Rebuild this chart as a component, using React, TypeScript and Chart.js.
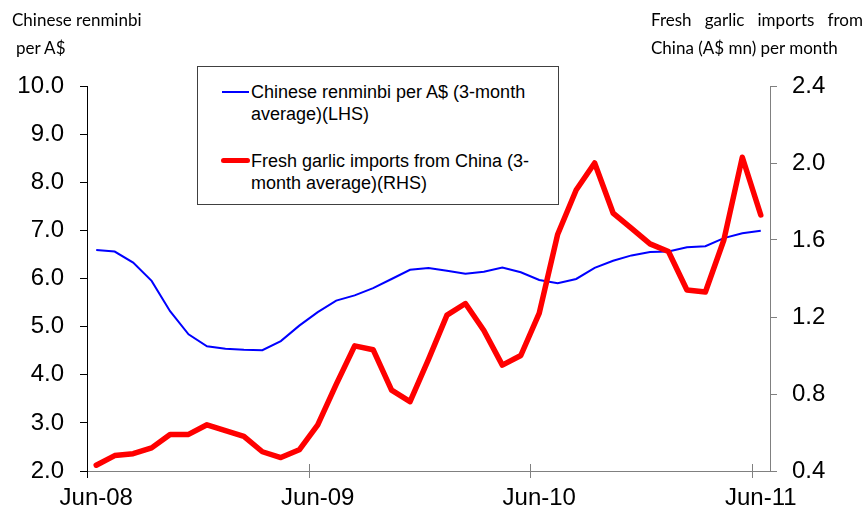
import React, { useEffect, useRef } from "react";
import { Chart, registerables } from "chart.js";

Chart.register(...registerables);

// Monthly categories, Jun-08 to Jun-11
const months = [
  "Jun-08", "Jul-08", "Aug-08", "Sep-08", "Oct-08", "Nov-08", "Dec-08",
  "Jan-09", "Feb-09", "Mar-09", "Apr-09", "May-09", "Jun-09", "Jul-09",
  "Aug-09", "Sep-09", "Oct-09", "Nov-09", "Dec-09", "Jan-10", "Feb-10",
  "Mar-10", "Apr-10", "May-10", "Jun-10", "Jul-10", "Aug-10", "Sep-10",
  "Oct-10", "Nov-10", "Dec-10", "Jan-11", "Feb-11", "Mar-11", "Apr-11",
  "May-11", "Jun-11",
];

// Labelled months on the horizontal axis
const xTickLabels = ["Jun-08", "Jun-09", "Jun-10", "Jun-11"];

// Chinese renminbi per A$ (3-month average), left axis
const rmbPerAud = [
  6.59, 6.56, 6.33, 5.95, 5.32, 4.84, 4.59, 4.54, 4.52, 4.51, 4.7, 5.02,
  5.3, 5.54, 5.65, 5.8, 5.99, 6.18, 6.22, 6.16, 6.1, 6.14, 6.23, 6.13,
  5.97, 5.9, 5.99, 6.22, 6.37, 6.48, 6.55, 6.56, 6.65, 6.67, 6.84, 6.94,
  6.99,
];

// Fresh garlic imports from China, A$ mn (3-month average), right axis
const garlicImports = [
  0.43, 0.48, 0.49, 0.52, 0.59, 0.59, 0.64, 0.61, 0.58, 0.5, 0.47, 0.51,
  0.64, 0.85, 1.05, 1.03, 0.82, 0.76, 0.98, 1.21, 1.27, 1.13, 0.95, 1.0,
  1.22, 1.63, 1.86, 2.0, 1.74, 1.66, 1.58, 1.54, 1.34, 1.33, 1.6, 2.03,
  1.73,
];

// Axis ranges
const leftMin = 2.0;
const leftMax = 10.0;
const leftStep = 1.0;
const rightMin = 0.4;
const rightMax = 2.4;
const rightStep = 0.4;

const seriesNames = [
  ["Chinese renminbi per A$ (3-month", "average)(LHS)"],
  ["Fresh garlic imports from China (3-", "month average)(RHS)"],
];

const axisFont = "'Liberation Sans', Arial, sans-serif";
const titleFont = "Lato, 'Open Sans', sans-serif";

// Crossing tick marks on the category axis at each labelled month boundary
const yearTicks = {
  id: "yearTicks",
  afterDraw(chart: any) {
    const xs = chart.scales.x;
    const ctx = chart.ctx;
    const half = (xs.getPixelForValue(1) - xs.getPixelForValue(0)) / 2;
    ctx.save();
    ctx.lineWidth = 1;
    months.forEach((m, i) => {
      if (!xTickLabels.includes(m)) return;
      const x = Math.round(xs.getPixelForValue(i) - half) + 0.5;
      ctx.strokeStyle = i === 0 ? "#000000" : "#808080";
      ctx.beginPath();
      ctx.moveTo(x, i === 0 ? xs.top : xs.top - 7);
      ctx.lineTo(x, xs.top + 7);
      ctx.stroke();
    });
    ctx.restore();
  },
};

export default function App() {
  const canvasRef = useRef<HTMLCanvasElement | null>(null);

  useEffect(() => {
    const canvas = canvasRef.current;
    if (!canvas) return;
    const chart = new Chart(canvas, {
      type: "line",
      data: {
        labels: months,
        datasets: [
          {
            label: seriesNames[0].join(" "),
            data: rmbPerAud,
            borderColor: "#0000FF",
            backgroundColor: "#0000FF",
            borderWidth: 2,
            pointRadius: 0,
            tension: 0,
            yAxisID: "y",
            order: 1,
          },
          {
            label: seriesNames[1].join(" "),
            data: garlicImports,
            borderColor: "#FF0000",
            backgroundColor: "#FF0000",
            borderWidth: 5.5,
            pointRadius: 0,
            tension: 0,
            borderCapStyle: "round",
            borderJoinStyle: "round",
            yAxisID: "y1",
            order: 0,
          },
        ],
      },
      options: {
        responsive: false,
        animation: false,
        devicePixelRatio: 1,
        layout: { padding: { top: 86, left: 0, right: 0, bottom: 0 } },
        plugins: {
          legend: { display: false },
          tooltip: { enabled: false },
        },
        scales: {
          x: {
            type: "category",
            offset: true,
            grid: {
              offset: true,
              display: true,
              drawOnChartArea: false,
              drawTicks: false,
              color: "rgba(0,0,0,0)",
            },
            border: { display: true, color: "#808080", width: 1 },
            ticks: {
              autoSkip: false,
              maxRotation: 0,
              minRotation: 0,
              padding: 13,
              color: "#000000",
              font: { family: axisFont, size: 24 },
              callback: (_v: any, i: number) =>
                xTickLabels.includes(months[i]) ? months[i] : "",
            },
            afterFit: (s: any) => {
              s.height = 44;
            },
          },
          y: {
            type: "linear",
            position: "left",
            min: leftMin,
            max: leftMax,
            grid: {
              drawOnChartArea: false,
              drawTicks: true,
              tickLength: 7,
              color: "#000000",
            },
            border: { display: true, color: "#000000", width: 1 },
            ticks: {
              stepSize: leftStep,
              padding: 16,
              color: "#000000",
              font: { family: axisFont, size: 24 },
              callback: (v: any) => Number(v).toFixed(1),
            },
            afterFit: (s: any) => {
              s.width = 87;
            },
          },
          y1: {
            type: "linear",
            position: "right",
            min: rightMin,
            max: rightMax,
            grid: {
              drawOnChartArea: false,
              drawTicks: true,
              tickLength: 7,
              color: "#808080",
            },
            border: { display: true, color: "#808080", width: 1 },
            ticks: {
              stepSize: rightStep,
              padding: 15,
              color: "#000000",
              font: { family: axisFont, size: 24 },
              callback: (v: any) => Number(v).toFixed(1),
            },
            afterFit: (s: any) => {
              s.width = 96;
            },
          },
        },
      },
      plugins: [yearTicks],
    });
    return () => chart.destroy();
  }, []);

  const legendText: React.CSSProperties = {
    position: "absolute",
    left: 251,
    fontFamily: axisFont,
    fontSize: 18,
    lineHeight: "22.5px",
    color: "#000",
    whiteSpace: "nowrap",
  };

  const titleStyle: React.CSSProperties = {
    position: "absolute",
    fontFamily: titleFont,
    fontSize: 17,
    lineHeight: "28px",
    color: "#000",
    whiteSpace: "nowrap",
  };

  return (
    <div
      style={{
        position: "absolute",
        left: 0,
        top: 0,
        width: 866,
        height: 515,
        background: "#ffffff",
        overflow: "hidden",
      }}
    >
      <canvas ref={canvasRef} width={866} height={515} style={{ display: "block" }} />

      {/* Axis titles */}
      <div style={{ ...titleStyle, left: 12, top: 6 }}>Chinese renminbi</div>
      <div style={{ ...titleStyle, left: 16, top: 34 }}>per A$</div>
      <div
        style={{
          ...titleStyle,
          left: 651,
          top: 6,
          width: 212,
          textAlign: "justify",
          textAlignLast: "justify",
          whiteSpace: "normal",
        }}
      >
        Fresh garlic imports from
      </div>
      <div style={{ ...titleStyle, left: 651, top: 34 }}>China (A$ mn) per month</div>

      {/* Legend */}
      <div
        style={{
          position: "absolute",
          left: 197,
          top: 66,
          width: 362,
          height: 139,
          border: "1px solid #404040",
          boxSizing: "border-box",
          background: "#ffffff",
        }}
      />
      <div
        style={{
          position: "absolute",
          left: 222,
          top: 91,
          width: 27,
          height: 2,
          background: "#0000FF",
        }}
      />
      <div style={{ ...legendText, top: 80.5 }}>
        {seriesNames[0][0]}
        <br />
        {seriesNames[0][1]}
      </div>
      <div
        style={{
          position: "absolute",
          left: 221,
          top: 157.5,
          width: 29,
          height: 5,
          borderRadius: 2.5,
          background: "#FF0000",
        }}
      />
      <div style={{ ...legendText, top: 149.5 }}>
        {seriesNames[1][0]}
        <br />
        {seriesNames[1][1]}
      </div>
    </div>
  );
}
